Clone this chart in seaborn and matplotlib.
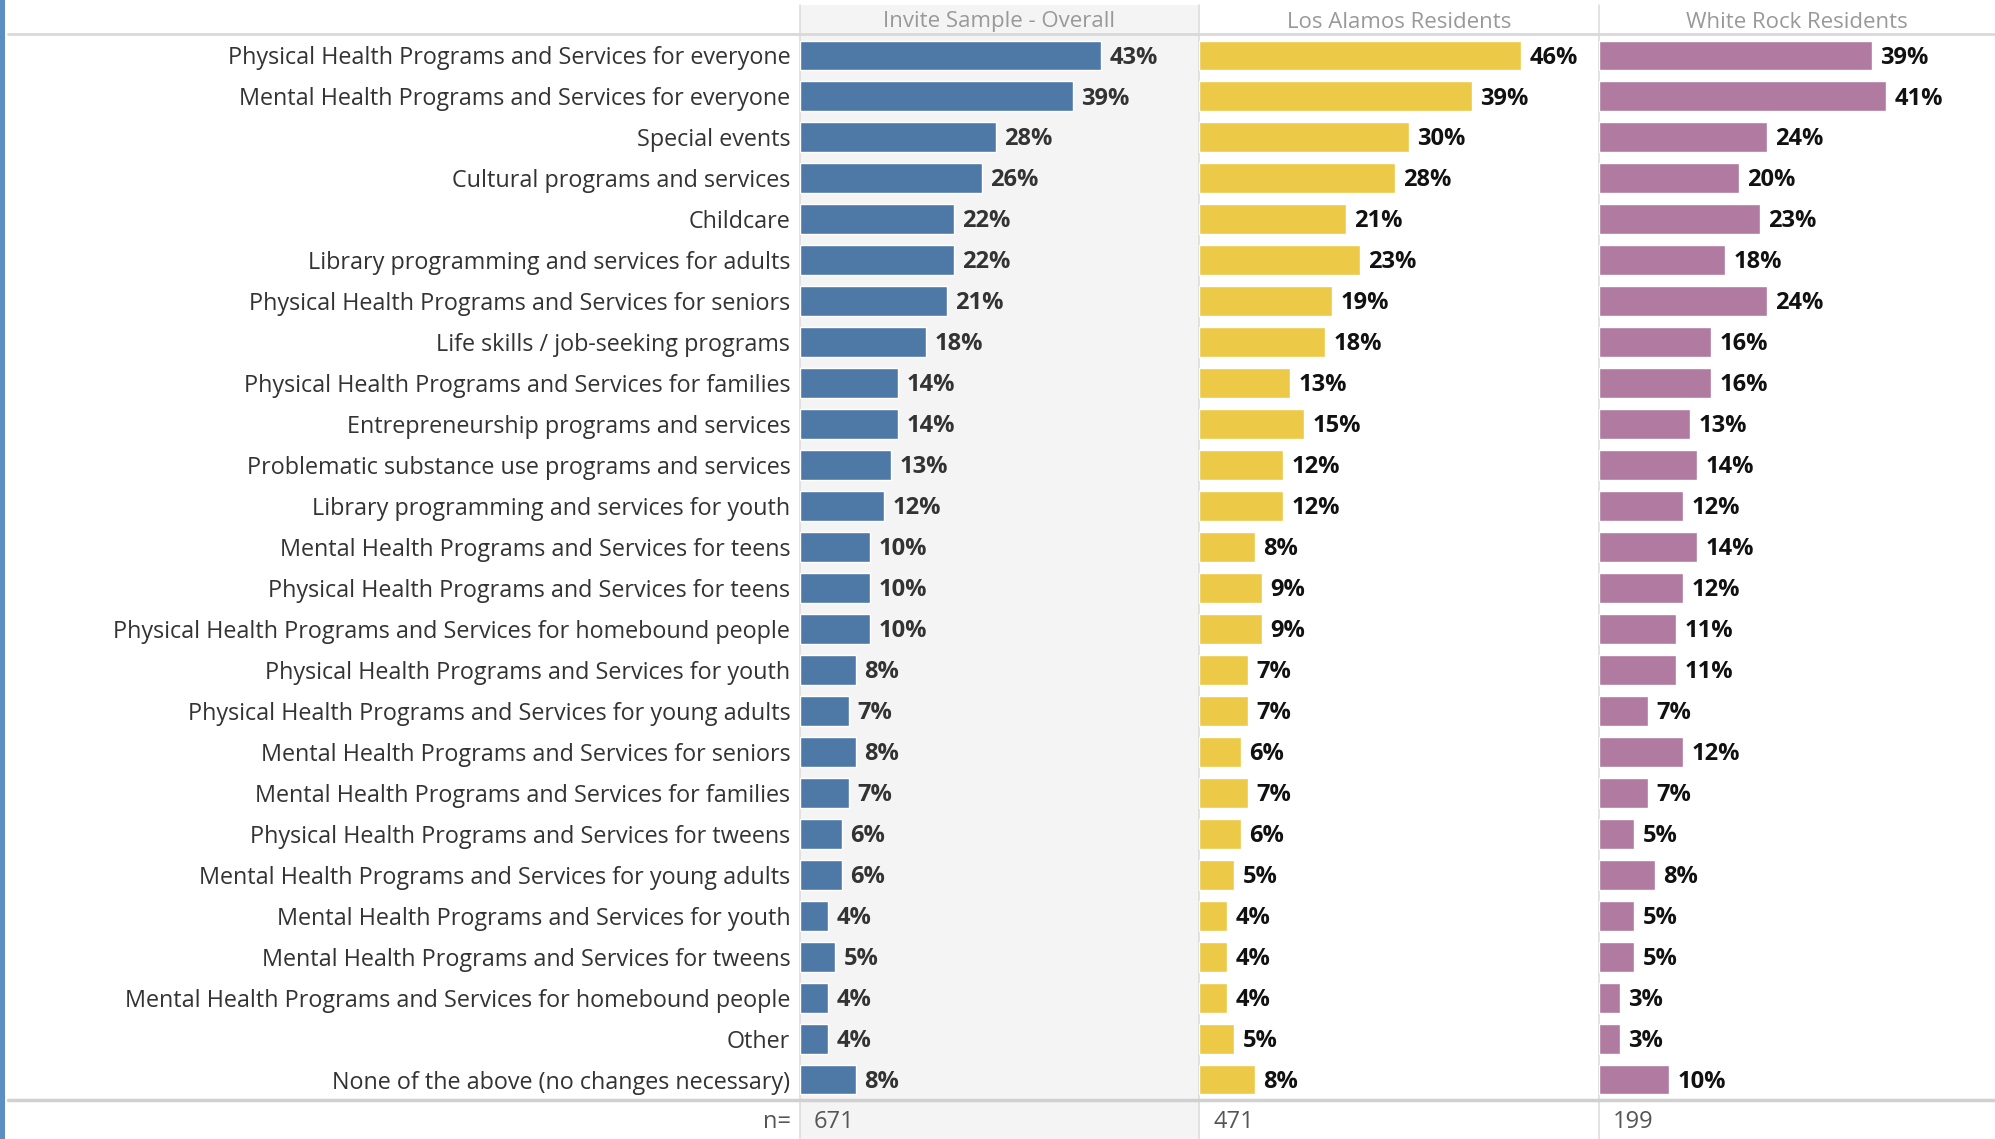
import matplotlib
matplotlib.use("Agg")
import matplotlib.pyplot as plt
from matplotlib.patches import Rectangle
from matplotlib.lines import Line2D
import seaborn as sns
import pandas as pd

categories = [
    "Physical Health Programs and Services for everyone",
    "Mental Health Programs and Services for everyone",
    "Special events",
    "Cultural programs and services",
    "Childcare",
    "Library programming and services for adults",
    "Physical Health Programs and Services for seniors",
    "Life skills / job-seeking programs",
    "Physical Health Programs and Services for families",
    "Entrepreneurship programs and services",
    "Problematic substance use programs and services",
    "Library programming and services for youth",
    "Mental Health Programs and Services for teens",
    "Physical Health Programs and Services for teens",
    "Physical Health Programs and Services for homebound people",
    "Physical Health Programs and Services for youth",
    "Physical Health Programs and Services for young adults",
    "Mental Health Programs and Services for seniors",
    "Mental Health Programs and Services for families",
    "Physical Health Programs and Services for tweens",
    "Mental Health Programs and Services for young adults",
    "Mental Health Programs and Services for youth",
    "Mental Health Programs and Services for tweens",
    "Mental Health Programs and Services for homebound people",
    "Other",
    "None of the above (no changes necessary)",
]
overall = [43, 39, 28, 26, 22, 22, 21, 18, 14, 14, 13, 12, 10, 10, 10, 8, 7, 8, 7, 6, 6, 4, 5, 4, 4, 8]
los_alamos = [46, 39, 30, 28, 21, 23, 19, 18, 13, 15, 12, 12, 8, 9, 9, 7, 7, 6, 7, 6, 5, 4, 4, 4, 5, 8]
white_rock = [39, 41, 24, 20, 23, 18, 24, 16, 16, 13, 14, 12, 14, 12, 11, 11, 7, 12, 7, 5, 8, 5, 5, 3, 3, 10]
panel_titles = ["Invite Sample - Overall", "Los Alamos Residents", "White Rock Residents"]
n_values = [671, 471, 199]

series = [overall, los_alamos, white_rock]
colors = ["#4e79a7", "#edc948", "#b07aa1"]
label_colors = ["#333333", "#111111", "#111111"]

sns.set_theme(style="white")
plt.rcParams["font.family"] = ["Open Sans", "DejaVu Sans"]

W, H = 1995, 1139
fig = plt.figure(figsize=(W / 100, H / 100), dpi=100)

def fx(px):
    return px / W

def fy(py):
    return 1 - py / H

# panel 1 background
fig.patches.append(Rectangle((fx(800), 0), fx(399), fy(5), transform=fig.transFigure,
                             facecolor="#f4f4f4", edgecolor="none", zorder=-5))
# left blue strip
fig.patches.append(Rectangle((0, 0), fx(5), 1, transform=fig.transFigure,
                             facecolor="#5b8fc3", edgecolor="none", zorder=-5))

top_px, bot_px = 35, 1100
lefts = [800, 1199, 1599]
widths = [399, 400, 396]
for i, (vals, col) in enumerate(zip(series, colors)):
    ax = fig.add_axes([fx(lefts[i]), fy(bot_px), fx(widths[i]), (bot_px - top_px) / H])
    ax.set_facecolor("none")
    ax.set_zorder(2)
    df = pd.DataFrame({"category": categories, "value": [v / 100 for v in vals]})
    sns.barplot(data=df, x="value", y="category", color=col, saturation=1, width=0.73, ax=ax)
    ax.set_xlim(0, widths[i] / 700)
    ax.set_ylim(len(categories) - 0.5, -0.5)
    texts = ax.bar_label(ax.containers[0], labels=[f"{v}%" for v in vals], padding=6,
                         fontsize=17, fontweight="bold", color=label_colors[i])
    for t in texts:
        t.xyann = (6, -1.5)
    ax.set_xlabel("")
    ax.set_ylabel("")
    ax.set_xticks([])
    for s in ax.spines.values():
        s.set_visible(False)
    if i == 0:
        ax.tick_params(axis="y", length=0, pad=7, labelsize=16.8, labelcolor="#333333")
    else:
        ax.set_yticks([])
    fig.text(fx(lefts[i] + widths[i] / 2), fy(22), panel_titles[i], ha="center", va="center",
             fontsize=16, color="#999999")
    fig.text(fx(lefts[i] + 14), fy(1122), str(n_values[i]), ha="left", va="center",
             fontsize=17, color="#555555")

fig.text(fx(791), fy(1122), "n=", ha="right", va="center", fontsize=17, color="#555555")

# separator lines
for x in lefts:
    fig.add_artist(Line2D([fx(x), fx(x)], [0, fy(5)], transform=fig.transFigure,
                          color="#dddddd", lw=1.2, zorder=1))
fig.add_artist(Line2D([fx(8), 1], [fy(34), fy(34)], transform=fig.transFigure,
                      color="#d9d9d9", lw=2, zorder=1))
fig.add_artist(Line2D([fx(8), 1], [fy(1100), fy(1100)], transform=fig.transFigure,
                      color="#d0d0d0", lw=2.5, zorder=1))

fig.savefig("out.png", dpi=100)
